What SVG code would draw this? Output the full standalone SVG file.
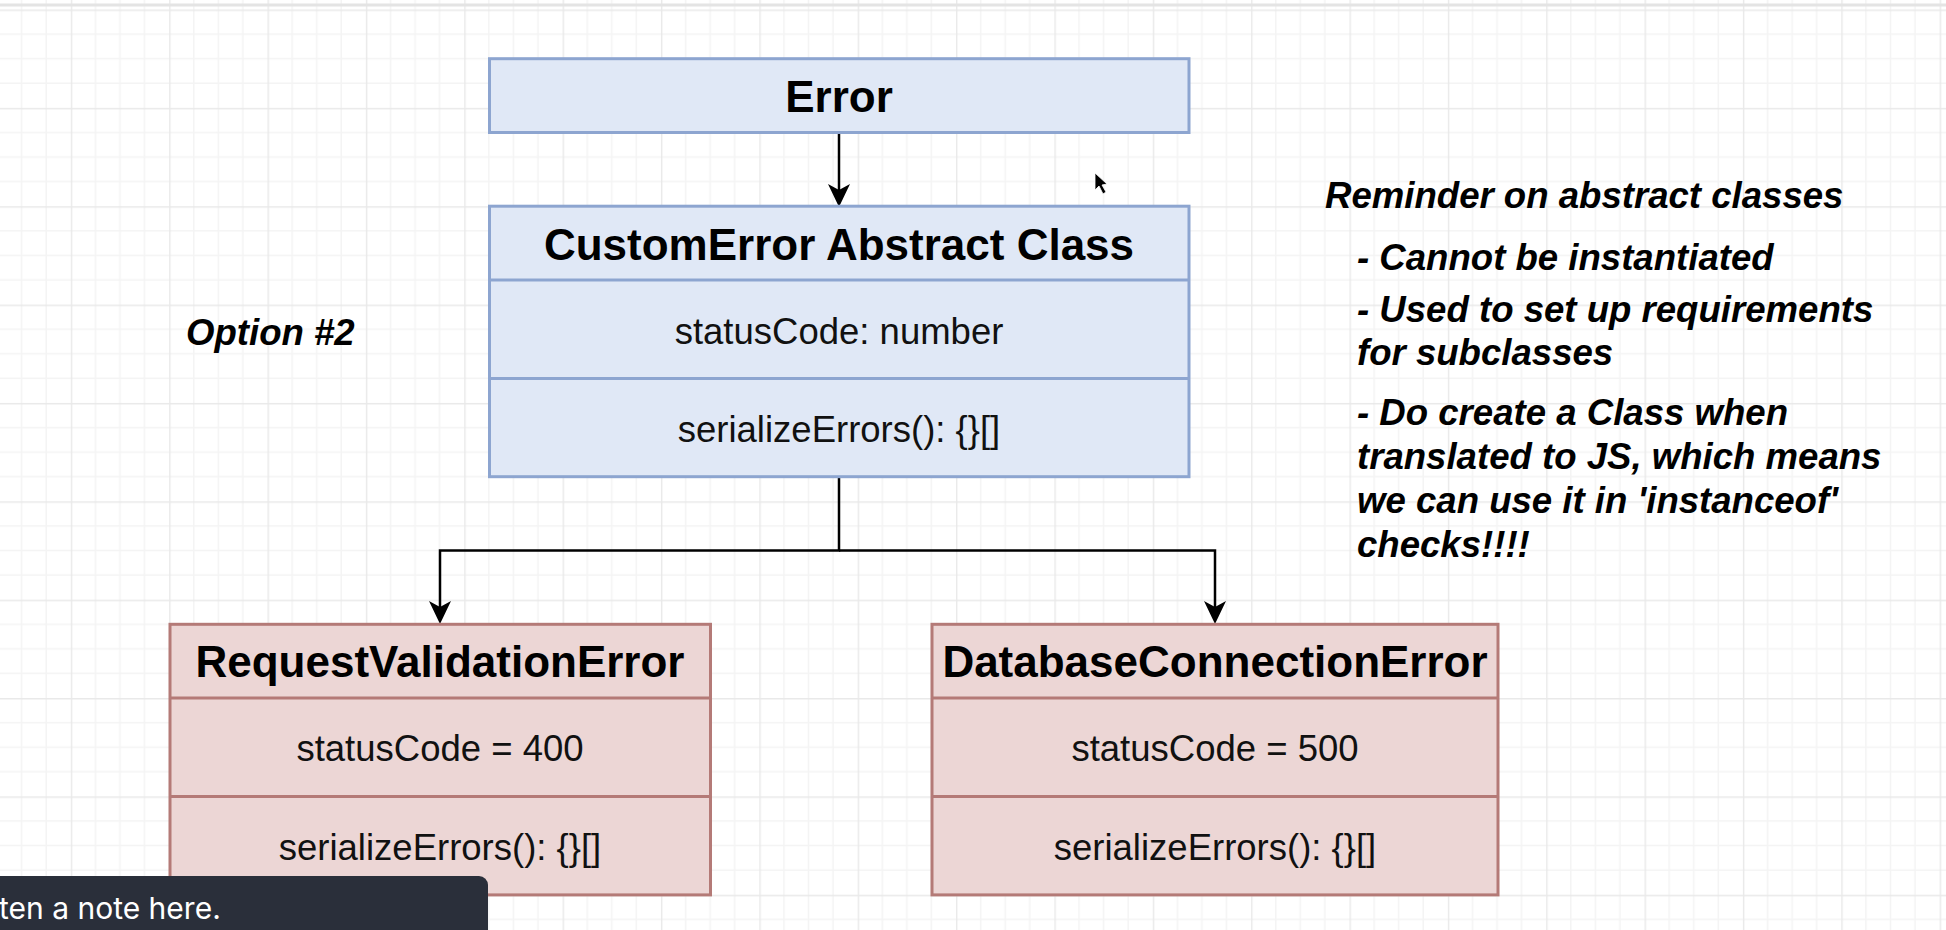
<svg xmlns="http://www.w3.org/2000/svg" width="1946" height="930" viewBox="0 0 1946 930">
  <defs>
    <pattern id="grid" patternUnits="userSpaceOnUse" x="70.8" y="9.5" width="98.36" height="98.36">
      <path d="M24.59,0V98.36M49.18,0V98.36M73.77,0V98.36M0,24.59H98.36M0,49.18H98.36M0,73.77H98.36" stroke="#f4f4f4" stroke-width="1.6" fill="none"/>
      <path d="M0.5,0V98.36M0,0.5H98.36" stroke="#e9e9e9" stroke-width="1.8" fill="none"/>
    </pattern>
    <style>
      .blue { fill: #e0e8f6; stroke: #8da5d0; stroke-width: 3; }
      .pink { fill: #ecd6d5; stroke: #b47a77; stroke-width: 3; }
      .div-blue { stroke: #8da5d0; stroke-width: 3; }
      .div-pink { stroke: #b47a77; stroke-width: 3; }
      .title { font-family: "Liberation Sans", Arial, sans-serif; font-weight: bold; font-size: 44px; fill: #000; text-anchor: middle; }
      .body { font-family: "Liberation Sans", Arial, sans-serif; font-size: 36.5px; fill: #111; text-anchor: middle; }
      .note { font-family: "Liberation Sans", Arial, sans-serif; font-weight: bold; font-style: italic; font-size: 36.6px; fill: #000; }
      .conn { fill: none; stroke: #000; stroke-width: 2.5; }
      .head { fill: #000; }
    </style>
  </defs>

  <rect x="0" y="0" width="1946" height="930" fill="#ffffff"/>
  <rect x="0" y="0" width="1946" height="930" fill="url(#grid)"/>
  <rect x="0" y="3.5" width="1946" height="3" fill="#e4e4e4"/>

  <g id="connectors">
    <path class="conn" d="M839,133 V193"/>
    <path class="head" d="M839,207 L828,184 L839,190 L850,184 Z"/>
    <path class="conn" d="M839,477 V550.5 H440 V610"/>
    <path class="head" d="M440,624 L429,601 L440,607 L451,601 Z"/>
    <path class="conn" d="M839,550.5 H1215 V610"/>
    <path class="head" d="M1215,624 L1204,601 L1215,607 L1226,601 Z"/>
  </g>

  <g id="node-error">
    <rect class="blue" x="489.5" y="58.7" width="699.5" height="73.8"/>
    <text class="title" x="839" y="112">Error</text>
  </g>

  <g id="node-customerror">
    <rect class="blue" x="489.5" y="206.2" width="699.5" height="270.5"/>
    <line class="div-blue" x1="489.5" y1="280" x2="1189" y2="280"/>
    <line class="div-blue" x1="489.5" y1="378.4" x2="1189" y2="378.4"/>
    <text class="title" x="839" y="260">CustomError Abstract Class</text>
    <text class="body" x="839" y="344">statusCode: number</text>
    <text class="body" x="839" y="442">serializeErrors(): {}[]</text>
  </g>

  <g id="node-requestvalidation">
    <rect class="pink" x="170" y="624.3" width="540.5" height="270.6"/>
    <line class="div-pink" x1="170" y1="698.1" x2="710.5" y2="698.1"/>
    <line class="div-pink" x1="170" y1="796.5" x2="710.5" y2="796.5"/>
    <text class="title" x="440" y="677">RequestValidationError</text>
    <text class="body" x="440" y="761">statusCode = 400</text>
    <text class="body" x="440" y="860">serializeErrors(): {}[]</text>
  </g>

  <g id="node-databaseconnection">
    <rect class="pink" x="932" y="624.3" width="566" height="270.6"/>
    <line class="div-pink" x1="932" y1="698.1" x2="1498" y2="698.1"/>
    <line class="div-pink" x1="932" y1="796.5" x2="1498" y2="796.5"/>
    <text class="title" x="1215" y="677">DatabaseConnectionError</text>
    <text class="body" x="1215" y="761">statusCode = 500</text>
    <text class="body" x="1215" y="860">serializeErrors(): {}[]</text>
  </g>

  <g id="label-option">
    <text class="note" x="186" y="345">Option #2</text>
  </g>

  <g id="note-reminder">
    <text class="note" x="1325" y="208">Reminder on abstract classes</text>
    <text class="note" x="1357" y="270">- Cannot be instantiated</text>
    <text class="note" x="1357" y="322">- Used to set up requirements</text>
    <text class="note" x="1357" y="365">for subclasses</text>
    <text class="note" x="1357" y="425">- Do create a Class when</text>
    <text class="note" x="1357" y="469">translated to JS, which means</text>
    <text class="note" x="1357" y="513">we can use it in 'instanceof'</text>
    <text class="note" x="1357" y="557">checks!!!!</text>
  </g>

  <g id="cursor">
    <path d="M1095,173 L1095,190 L1099,186 L1103,194 L1106,192 L1102,185 L1107,184 Z" fill="#000" stroke="#fff" stroke-width="0.8"/>
  </g>

  <g id="tooltip">
    <rect x="-20" y="876" width="508" height="80" rx="9" fill="#2a2f3a"/>
    <text x="-1" y="919" font-family="Inter, 'Noto Sans', sans-serif" font-size="30" fill="#ffffff">ten a note here.</text>
  </g>
</svg>
